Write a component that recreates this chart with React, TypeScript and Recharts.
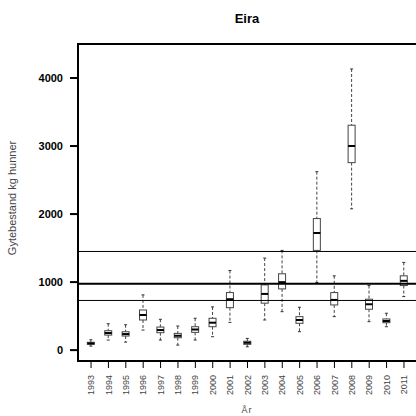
import { ComposedChart, Bar, XAxis, YAxis, ReferenceLine, ReferenceArea, Customized } from 'recharts'

const years = [1993, 1994, 1995, 1996, 1997, 1998, 1999, 2000, 2001, 2002, 2003, 2004, 2005, 2006, 2007, 2008, 2009, 2010, 2011]
const mins = [59, 148, 118, 295, 148, 74, 148, 197, 408, 49, 443, 565, 271, 994, 492, 2077, 418, 344, 787]
const q1s = [85, 221, 207, 443, 256, 182, 261, 344, 624, 85, 690, 900, 394, 1466, 664, 2756, 601, 403, 949]
const medians = [99, 251, 236, 516, 295, 211, 303, 403, 748, 108, 826, 999, 443, 1722, 738, 3001, 674, 428, 1018]
const q3s = [115, 285, 270, 590, 339, 246, 344, 468, 846, 130, 959, 1122, 492, 1934, 846, 3306, 748, 458, 1092]
const maxs = [152, 388, 373, 812, 453, 354, 468, 635, 1170, 172, 1353, 1466, 630, 2623, 1092, 4133, 949, 542, 1289]
const refLines = [1450, 975, 730]
const yTicks = [0, 1000, 2000, 3000, 4000]

const data = years.map((year, i) => ({
  pos: i + 1,
  year,
  min: mins[i],
  q1: q1s[i],
  median: medians[i],
  q3: q3s[i],
  max: maxs[i],
}))

const font = '"Liberation Sans", Arial, sans-serif'

const BoxShape = (props: any) => {
  const { x, y, width, height, payload } = props
  const { min, q1, median, q3, max } = payload
  const top = Math.min(y, y + height)
  const h = Math.abs(height)
  const py = (v: number) => top + ((max - v) / (max - min)) * h
  const cx = x + width / 2
  return (
    <g>
      <line x1={cx} x2={cx} y1={py(max)} y2={py(q3)} stroke="#444" strokeDasharray="3 2" />
      <line x1={cx} x2={cx} y1={py(q1)} y2={py(min)} stroke="#444" strokeDasharray="3 2" />
      <line x1={cx - 1.5} x2={cx + 1.5} y1={py(max)} y2={py(max)} stroke="#333" />
      <line x1={cx - 1.5} x2={cx + 1.5} y1={py(min)} y2={py(min)} stroke="#333" />
      <rect x={x} y={py(q3)} width={width} height={Math.max(py(q1) - py(q3), 1)} fill="#fff" stroke="#444" />
      <line x1={x} x2={x + width} y1={py(median)} y2={py(median)} stroke="#000" strokeWidth={2} />
    </g>
  )
}

const YearTick = (props: any) => {
  const { x, payload } = props
  const label = years[payload.value - 1]
  const ty = 375
  return (
    <text
      x={x}
      y={ty}
      dy="0.35em"
      transform={`rotate(-90, ${x}, ${ty})`}
      textAnchor="end"
      fill="#444"
      fontSize={9}
      fontFamily={font}
    >
      {label}
    </text>
  )
}

const Labels = () => (
  <g fontFamily={font}>
    <text x={247} y={23} textAnchor="middle" fontSize={13} fontWeight="bold" fill="#000">Eira</text>
    <text x={16} y={198} textAnchor="middle" fontSize={11} fill="#444" transform="rotate(-90, 16, 198)">
      Gytebestand kg hunner
    </text>
    <text x={247} y={413} textAnchor="middle" fontSize={9} fill="#444" letterSpacing={1}>År</text>
  </g>
)

export default function App() {
  return (
    <div style={{ position: 'absolute', left: 0, top: 0, width: 416, height: 416, overflow: 'hidden', background: '#fff' }}>
      <ComposedChart width={420} height={416} data={data} margin={{ top: 44, right: 3, bottom: 0, left: 0 }}>
        <XAxis
          type="number"
          dataKey="pos"
          domain={[0.25, 19.75]}
          ticks={years.map((_, i) => i + 1)}
          interval={0}
          allowDataOverflow
          height={55}
          tickSize={7}
          tick={<YearTick />}
          axisLine={{ stroke: '#000', strokeWidth: 2 }}
          tickLine={{ stroke: '#000', strokeWidth: 1 }}
        />
        <YAxis
          type="number"
          domain={[-160, 4500]}
          ticks={yTicks}
          allowDataOverflow
          width={78}
          tickSize={8}
          tickMargin={7}
          tick={{ fill: '#000', fontSize: 11, fontWeight: 'bold', fontFamily: font }}
          axisLine={{ stroke: '#000', strokeWidth: 2 }}
          tickLine={{ stroke: '#000', strokeWidth: 2 }}
        />
        <ReferenceArea x1={0.25} x2={19.75} y1={-160} y2={4500} fill="none" stroke="#000" strokeWidth={2} fillOpacity={0} />
        {refLines.map((v, i) => (
          <ReferenceLine key={v} y={v} stroke="#000" strokeWidth={i === 1 ? 2 : 1} />
        ))}
        <Bar
          dataKey={(d: any) => [d.min, d.max]}
          barSize={7}
          shape={<BoxShape />}
          isAnimationActive={false}
        />
        <Customized component={Labels} />
      </ComposedChart>
    </div>
  )
}
